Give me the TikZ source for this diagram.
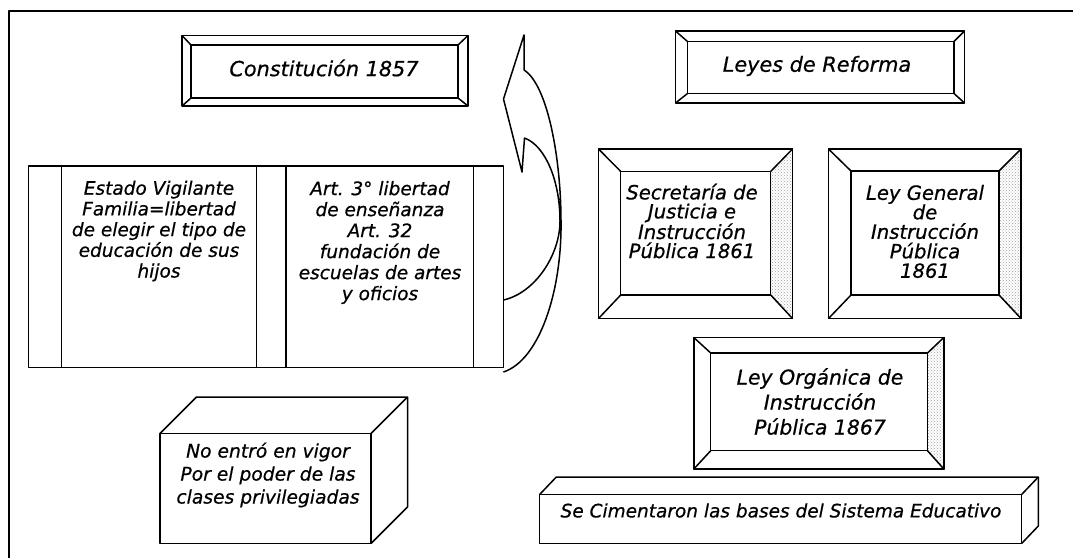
\documentclass[tikz,border=0pt]{standalone}
\usepackage{fontspec}
\setmainfont{DejaVu Sans}
\usetikzlibrary{patterns}
\newcommand\heavytext{\addfontfeature{FakeBold=0.6}}
\begin{document}
\begin{tikzpicture}[x=1pt,y=-1pt, line width=1.5pt, line join=round,
  plain/.style={draw, inner sep=0pt, outer sep=0pt},
  txt/.style={align=center, inner sep=0pt},
  stip/.style={pattern=crosshatch dots, pattern color=gray!75, draw=none}]
\useasboundingbox (0,0) rectangle (1073,558);

% frame
\coordinate (ftl) at (9,11);
\coordinate (ftr) at (1073,11);
\coordinate (fbl) at (9,558);
\draw (ftr) -- (ftl) -- (fbl);

% Constitucion 1857
\node[plain, minimum width=286, minimum height=70.5] (co) at (325,70.75) {};
\node[plain, minimum width=267, minimum height=53] (ci) at (324.5,71.5) {};
\foreach \a in {north west,north east,south west,south east}{\draw (co.\a) -- (ci.\a);}
\node[txt, font=\itshape\fontsize{20.8}{24}\selectfont\heavytext] (ct) at (324,68) {Constitución 1857};

% Leyes de Reforma
\node[plain, minimum width=289, minimum height=72] (lo) at (820,67) {};
\node[plain, minimum width=266.5, minimum height=52] (li) at (820.75,67.5) {};
\foreach \a in {north west,north east,south west,south east}{\draw (lo.\a) -- (li.\a);}
\node[txt, font=\itshape\fontsize{20.8}{24}\selectfont\heavytext] (lt) at (817,66) {Leyes de Reforma};

% Secretaria
\node[plain, minimum width=194, minimum height=169.5] (so) at (695.5,233.75) {};
\fill[stip] (so.north east) -- (so.south east) -- (695.7+75,233.2+61.8) -- (695.7+75,233.2-61.8) -- cycle;
\node[plain, minimum width=150, minimum height=123.6] (si) at (695.7,233.2) {};
\foreach \a in {north west,north east,south west,south east}{\draw (so.\a) -- (si.\a);}
\draw (so.north west) rectangle (so.south east);
\node[txt, font=\itshape\fontsize{19.6}{19}\selectfont\heavytext] (st) at (692,221) {Secretaría de\\Justicia e\\Instrucción\\Pública 1861};

% Ley General
\node[plain, minimum width=192.5, minimum height=169.5] (go) at (924.75,233.75) {};
\fill[stip] (go.north east) -- (go.south east) -- (925+74,233+62) -- (925+74,233-62) -- cycle;
\node[plain, minimum width=148, minimum height=124] (gi) at (925,233) {};
\foreach \a in {north west,north east,south west,south east}{\draw (go.\a) -- (gi.\a);}
\draw (go.north west) rectangle (go.south east);
\node[txt, font=\itshape\fontsize{19.6}{19.5}\selectfont\heavytext] (gt) at (925,231.5) {Ley General\\de\\Instrucción\\Pública\\1861};

% Ley Organica
\node[plain, minimum width=250, minimum height=131.5] (oo) at (818.8,403.25) {};
\fill[stip] (oo.north east) -- (oo.south east) -- (819.1+108.4,401.85+48.85) -- (819.1+108.4,401.85-48.85) -- cycle;
\node[plain, minimum width=216.8, minimum height=97.7] (oi) at (819.1,401.85) {};
\foreach \a in {north west,north east,south west,south east}{\draw (oo.\a) -- (oi.\a);}
\draw (oo.north west) rectangle (oo.south east);
\node[txt, font=\itshape\fontsize{20.4}{25}\selectfont\heavytext] (ot) at (820,401.5) {Ley Orgánica de\\Instrucción\\Pública 1867};

% Se Cimentaron (3D block)
\node[plain, minimum width=482, minimum height=49] (bf) at (780.7,518.9) {};
\draw (bf.north west) -- ++(16.6,-17.4) -- ([shift={(16.6,-17.4)}]bf.north east) -- (bf.north east);
\draw ([shift={(16.6,-17.4)}]bf.north east) -- ([shift={(16.6,-17.4)}]bf.south east) -- (bf.south east);
\node[txt, font=\itshape\fontsize{18.5}{20}\selectfont\heavytext] (bt) at (781,510.5) {Se Cimentaron las bases del Sistema Educativo};

% No entro (3D block)
\node[plain, minimum width=211, minimum height=110] (nf) at (265.5,488.5) {};
\draw (nf.north west) -- ++(36.5,-36.5) -- ([shift={(36.5,-36.5)}]nf.north east) -- (nf.north east);
\draw ([shift={(36.5,-36.5)}]nf.north east) -- ([shift={(36.5,-36.5)}]nf.south east) -- (nf.south east);
\node[txt, font=\itshape\fontsize{18.7}{23}\selectfont\heavytext] (nt) at (268,475) {No entró en vigor\\Por el poder de las\\clases privilegiadas};

% scroll panel
\node[plain, minimum width=474.8, minimum height=201.5] (sc) at (266,266.75) {};
\draw (61.3,166) -- (61.3,367.5);
\draw (256.5,166) -- (256.5,367.5);
\draw (285.8,166) -- (285.8,367.5);
\draw (473.5,166) -- (473.5,367.5);
\node[txt, font=\itshape\fontsize{18.5}{20.7}\selectfont\heavytext] (sl) at (159,231) {Estado Vigilante\\Familia=libertad\\de elegir el tipo de\\educación de sus\\hijos};
\node[txt, font=\itshape\fontsize{18.5}{21}\selectfont\heavytext] (sr) at (380,242.5) {Art. 3° libertad\\de enseñanza\\Art. 32\\fundación de\\escuelas de artes\\y oficios};

% curved arrow
\coordinate (ai) at (503.4,300);
\coordinate (ao) at (503.4,372);
\draw (ai) .. controls (535,293) and (560,255) .. (560,221)
  .. controls (560,182) and (546,146) .. (524.5,138)
  -- (522,172) -- (503.5,99) -- (524,35) -- (524,70)
  .. controls (548,85) and (561,160) .. (561,221)
  .. controls (562,290) and (540,360) .. (ao);
\end{tikzpicture}
\end{document}
